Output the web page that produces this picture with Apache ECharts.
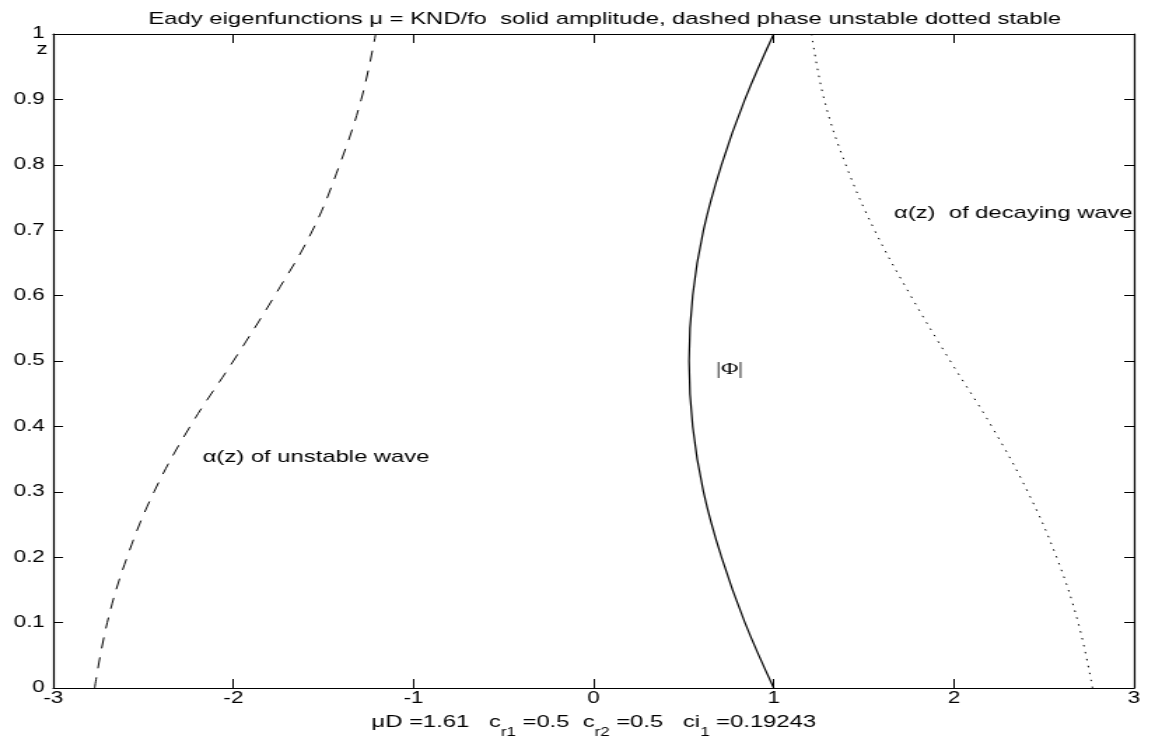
<!DOCTYPE html>
<html>
<head>
<meta charset="utf-8">
<title>Eady eigenfunctions</title>
<script src="https://cdn.jsdelivr.net/npm/echarts@6/dist/echarts.min.js"></script>
<style>
  html, body { margin: 0; padding: 0; background: #fff; overflow: hidden; }
  /* the source figure is stretched sideways: draw it narrow, then widen */
  #chart { width: 822px; height: 738px; transform: scaleX(1.4); transform-origin: 0 0; }
</style>
</head>
<body>
<div id="chart"></div>
<script>
/* ---------------------- data ---------------------- */
const Z_LEVELS = [0, 0.1, 0.2, 0.3, 0.4, 0.5, 0.6, 0.7, 0.8, 0.9, 1.0];
const AMPLITUDE = [1.00, 0.84, 0.71, 0.61, 0.55, 0.53, 0.55, 0.61, 0.71, 0.84, 1.00];
const PHASE_UNSTABLE = [-2.77, -2.70, -2.59, -2.44, -2.24, -2.00, -1.77, -1.56, -1.41, -1.29, -1.21];
const PHASE_DECAYING = [2.77, 2.69, 2.57, 2.41, 2.21, 1.98, 1.76, 1.56, 1.40, 1.28, 1.21];

const TITLE = "Eady eigenfunctions \u03bc = KND/fo  solid amplitude, dashed phase unstable dotted stable";
const LABEL_UNSTABLE = "\u03b1(z) of unstable wave";
const LABEL_DECAYING = "\u03b1(z)  of decaying wave";
const LABEL_AMPLITUDE = "|\u03a6|";

const FONT = '"Liberation Sans", Arial, Helvetica, sans-serif';
const SERIF = '"Liberation Serif", "Times New Roman", serif';
const INK = "#000";

const chart = echarts.init(document.getElementById("chart"), null, { renderer: "canvas" });

function toPoints(xs) {
  return xs.map((x, i) => [x, Z_LEVELS[i]]);
}

const boxLine = { show: true, onZero: false, lineStyle: { color: INK, width: 1.2 } };
const xTick = { inside: true, length: 9, lineStyle: { color: INK, width: 1 } };
const yTick = { inside: true, length: 7, lineStyle: { color: INK, width: 1 } };

chart.setOption({
  animation: false,
  backgroundColor: "#fff",
  title: {
    text: TITLE, left: 427, top: 6, textAlign: "center",
    textStyle: { color: INK, fontSize: 17, fontWeight: "normal", fontFamily: FONT },
  },
  grid: { left: 38, right: 12, top: 34, bottom: 50, containLabel: false, outerBoundsMode: "none" },
  xAxis: [{
    type: "value", min: -3, max: 3, interval: 1,
    axisLine: boxLine, axisTick: xTick, splitLine: { show: false },
    axisLabel: { margin: 3, color: INK, fontSize: 16, fontFamily: FONT },
    name: "{g| }{n|\u03bcD =1.61   c}{s|r1}{n| =0.5  c}{s|r2}{n| =0.5   ci}{s|1}{n| =0.19243}",
    nameLocation: "middle", nameGap: 26,
    nameTextStyle: {
      rich: {
        g: { fontSize: 1, lineHeight: 25 },
        n: { fontSize: 17, lineHeight: 16, verticalAlign: "top", color: INK, fontFamily: FONT },
        s: { fontSize: 12, lineHeight: 12, verticalAlign: "bottom", color: INK, fontFamily: FONT },
      },
    },
  }, {
    type: "value", position: "top", min: -3, max: 3, interval: 1,
    axisLine: boxLine, axisTick: xTick, splitLine: { show: false },
    axisLabel: { show: false },
  }],
  yAxis: [{
    type: "value", min: 0, max: 1, interval: 0.1,
    axisLine: boxLine, axisTick: yTick, splitLine: { show: false },
    axisLabel: {
      margin: 6, color: INK, fontSize: 16, fontFamily: FONT,
      formatter: v => String(Math.round(v * 10) / 10),
    },
  }, {
    type: "value", position: "right", min: 0, max: 1, interval: 0.1,
    axisLine: boxLine, axisTick: yTick, splitLine: { show: false },
    axisLabel: { show: false },
  }],
  series: [
    {
      name: "unstable phase", type: "line", data: toPoints(PHASE_UNSTABLE),
      showSymbol: false, smooth: 0.4,
      lineStyle: { color: INK, width: 1, type: [11, 9] },
    },
    {
      name: "amplitude", type: "line", data: toPoints(AMPLITUDE),
      showSymbol: false, smooth: 0.4,
      lineStyle: { color: INK, width: 1.2 },
    },
    {
      name: "decaying phase", type: "line", data: toPoints(PHASE_DECAYING),
      showSymbol: false, smooth: 0.4,
      lineStyle: { color: INK, width: 1, type: [1.5, 5.5] },
    },
  ],
});

/* ---------------------- text notes at data coordinates ---------------------- */
function placeNotes() {
  const notes = [
    { text: LABEL_UNSTABLE, at: [-2.17, 0.352], font: FONT },
    { text: LABEL_AMPLITUDE, at: [0.68, 0.487], font: SERIF },
    { text: LABEL_DECAYING, at: [1.668, 0.726], font: FONT },
  ];
  const graphic = notes.map(n => {
    const [px, py] = chart.convertToPixel({ gridIndex: 0 }, n.at);
    return {
      type: "text", x: px, y: py, silent: true,
      style: { text: n.text, fill: INK, font: "17px " + n.font, align: "left", verticalAlign: "middle" },
    };
  });
  graphic.push({
    type: "text", x: 34, y: 50, silent: true,
    style: { text: "z", fill: INK, font: "16px " + FONT, align: "right", verticalAlign: "middle" },
  });
  chart.setOption({ graphic });
}
placeNotes();
</script>
</body>
</html>
